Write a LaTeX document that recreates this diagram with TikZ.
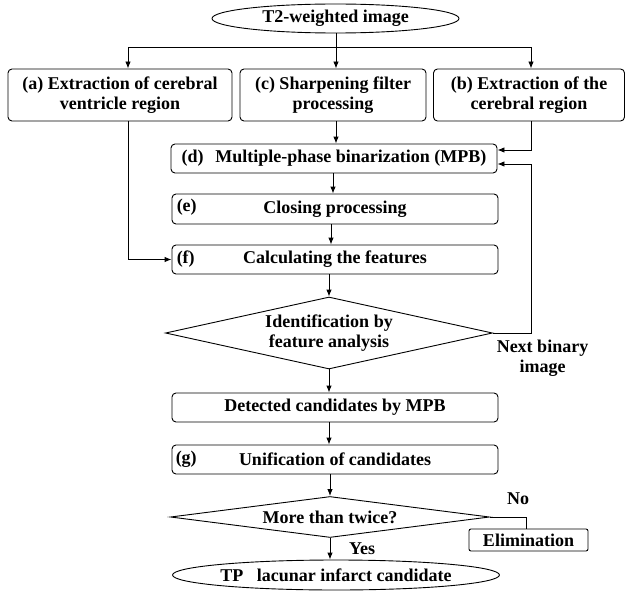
\documentclass[tikz,border=0pt]{standalone}
\usepackage{fontspec}
\setmainfont{Liberation Serif}
\usetikzlibrary{shapes.geometric,arrows.meta}
\begin{document}
\begin{tikzpicture}[x=1pt,y=-1pt,
  every node/.style={font=\fontsize{18}{20}\selectfont\bfseries, inner sep=0pt},
  line/.style={line width=0.9pt},
  box/.style={draw, line, rounded corners=4pt, align=center},
  term/.style={draw, line, ellipse},
  decision/.style={draw, line, diamond, align=center},
  arr/.style={line, -{Latex[length=7pt,width=5.5pt]}},
  lbl/.style={align=center}]
\useasboundingbox (0,0) rectangle (626,591);

\node[term, minimum width=247, minimum height=29] (t2) at (335.5,18.5) {T2-weighted image};
\node[box, minimum width=224, minimum height=52] (a) at (120,95) {(a) Extraction of cerebral\\ventricle region};
\node[box, minimum width=186, minimum height=52] (c) at (333,95) {(c) Sharpening filter\\processing};
\node[box, minimum width=191, minimum height=52] (b) at (529,95) {(b) Extraction of the\\cerebral region};
\node[box, minimum width=326, minimum height=29] (d) at (334,158.5) {(d)\hspace{0.4em} Multiple-phase binarization (MPB)};
\node[box, minimum width=326, minimum height=30] (e) at (335,209) {Closing processing};
\node[anchor=west] (el) at ([xshift=5pt,yshift=2pt]e.west) {(e)};
\node[box, minimum width=326, minimum height=29] (f) at (335,259.5) {Calculating the features};
\node[anchor=west] (fl) at ([xshift=5pt]f.west) {(f)};
\node[decision, aspect=4.54, minimum width=327, minimum height=72] (p) at (329,333) {Identification by\\feature analysis};
\node[box, minimum width=326, minimum height=29] (det) at (335,407.5) {Detected candidates by MPB};
\node[box, minimum width=326, minimum height=29] (g) at (335,459.5) {Unification of candidates};
\node[anchor=west] (gl) at ([xshift=4pt]g.west) {(g)};
\node[decision, aspect=7.78, minimum width=319, minimum height=41] (q) at (330,517) {More than twice?};
\node[box, rounded corners=2pt, minimum width=119, minimum height=22] (elim) at (528.5,540) {Elimination};
\node[term, minimum width=326, minimum height=30] (tp) at (336,575) {TP\hspace{0.5em} lacunar infarct candidate};

\node[lbl] (next) at (542.5,358) {Next binary\\image};
\node[anchor=base] (no) at (518,504) {No};
\node[anchor=base] (yes) at (362,554) {Yes};

\coordinate (split) at (336,47);
\coordinate (fb) at (531,333);

\draw[arr] (t2.south -| split) -- (split |- c.north);
\draw[arr] (split) -| ([xshift=8pt]a.north);
\draw[arr] (split) -| ([xshift=2pt]b.north);
\draw[arr] (c.south -| split) -- (split |- d.north);
\draw[arr] ([xshift=2pt]b.south) |- ([yshift=8.5pt]d.east);
\draw[arr] (p.east) -- (fb) |- ([yshift=-5.5pt]d.east);
\draw[arr] ([xshift=-1pt]d.south) -- ([xshift=-1pt]d.south |- e.north);
\draw[arr] ([xshift=-4pt]e.south) -- ([xshift=-4pt]e.south |- f.north);
\draw[arr] ([xshift=8pt]a.south) |- (f.west);
\draw[arr] (f.south -| p.north) -- (p.north);
\draw[arr] (p.south) -- (p.south |- det.north);
\draw[arr] (det.south -| p.south) -- (p.south |- g.north);
\draw[arr] (g.south -| q.north) -- (q.north);
\draw[arr] (q.south) -- (q.south |- tp.north);
\draw[line] (q.east) -| ([xshift=-2.5pt]elim.north);
\end{tikzpicture}
\end{document}
